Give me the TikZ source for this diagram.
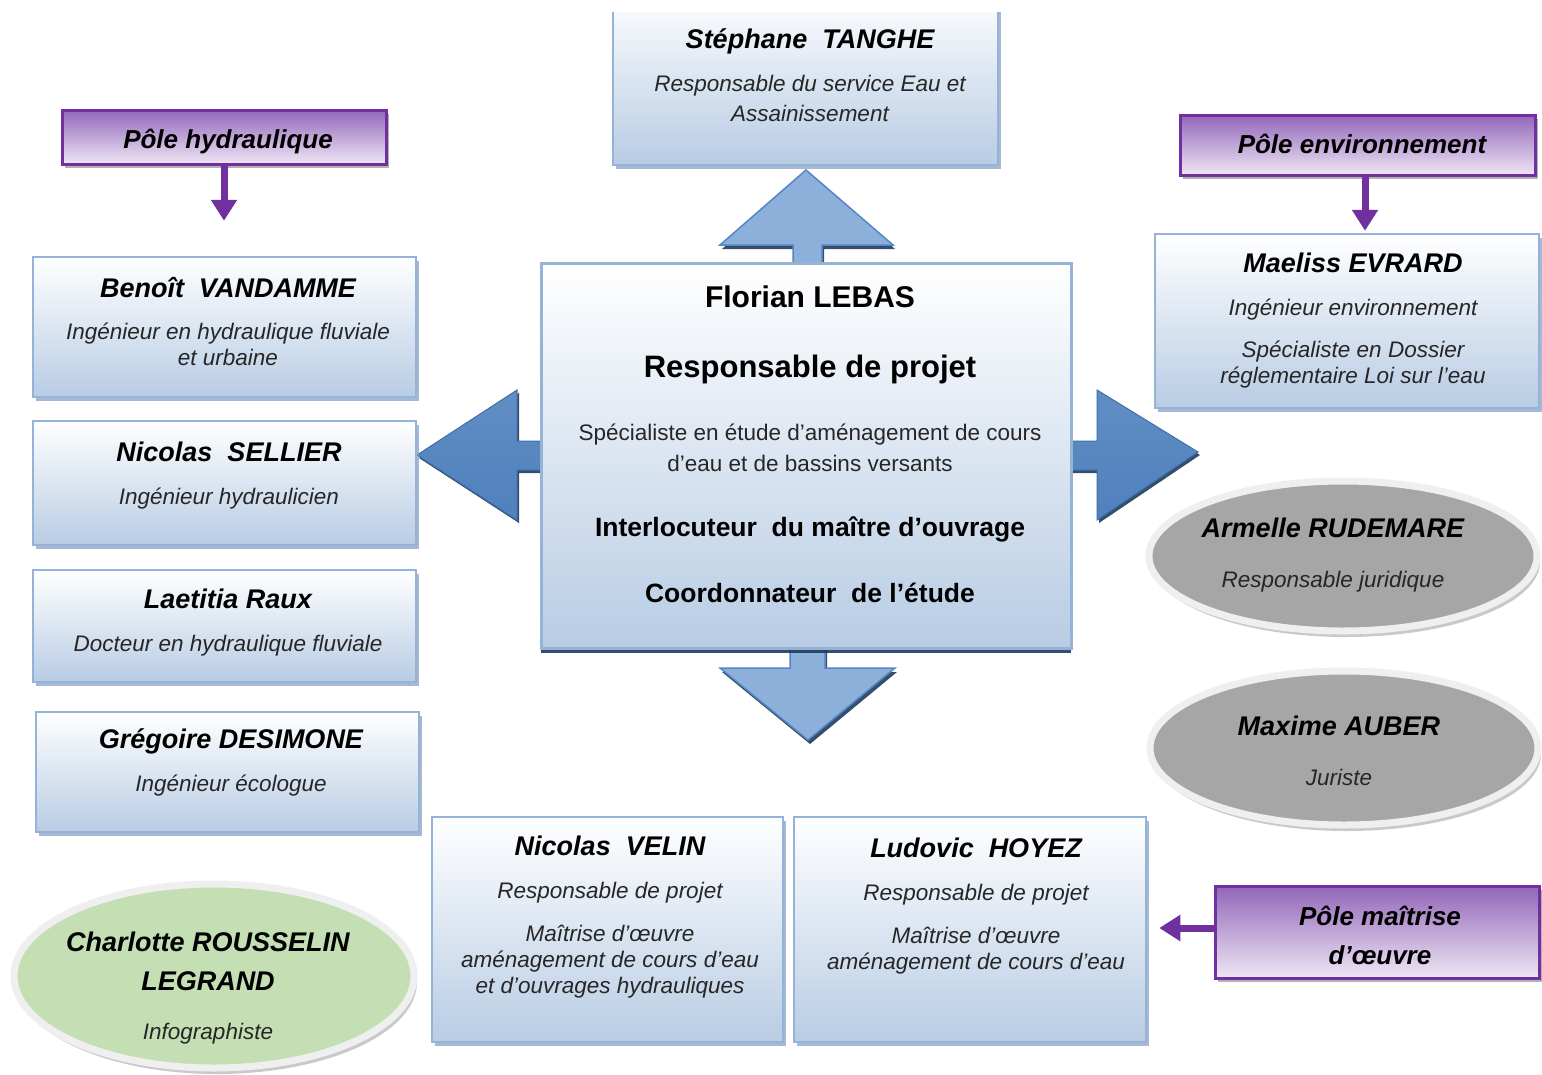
\documentclass[tikz,border=0pt]{standalone}
\usepackage{fontspec}
\setmainfont{Liberation Sans}
\usetikzlibrary{shapes.geometric,shadows,arrows.meta}
\definecolor{bxline}{HTML}{95B3D7}
\definecolor{bxbot}{HTML}{B8CCE4}
\definecolor{bxshad}{HTML}{7F9CC4}
\definecolor{navy}{HTML}{1F3B5C}
\definecolor{darkarrow}{HTML}{4F81BD}
\definecolor{darkarrowedge}{HTML}{3E6FAA}
\definecolor{lightarrow}{HTML}{8DB0DA}
\definecolor{lightarrowedge}{HTML}{5585C4}
\definecolor{purp}{HTML}{7030A0}
\definecolor{purptop}{HTML}{9366BA}
\definecolor{purpbot}{HTML}{EEE6F4}
\definecolor{greyfill}{HTML}{A6A6A6}
\definecolor{rim}{HTML}{EFEFEF}
\definecolor{greenfill}{HTML}{C4DFB4}
\definecolor{roletext}{HTML}{262626}
\begin{document}
\begin{tikzpicture}[x=1pt,y=-1pt,
  pbox/.style={rectangle, draw=bxline, line width=2.5pt, top color=white, bottom color=bxbot, inner sep=0pt,
    drop shadow={shadow xshift=3pt, shadow yshift=-4pt, fill=bxshad, opacity=0.7}},
  cbox/.style={rectangle, draw=bxline, line width=3pt, top color=white, bottom color=bxbot, inner sep=0pt,
    drop shadow={shadow xshift=0pt, shadow yshift=-5pt, fill=navy, opacity=0.9}},
  polebox/.style={rectangle, draw=purp, line width=3pt, top color=purptop, bottom color=purpbot, inner sep=0pt,
    drop shadow={shadow xshift=3pt, shadow yshift=-4pt, fill=gray, opacity=0.6}},
  oval/.style={ellipse, draw=rim, line width=7pt, inner sep=0pt,
    drop shadow={shadow xshift=3pt, shadow yshift=-6pt, fill=gray!70, opacity=0.6}},
  nm/.style={anchor=base, inner sep=0pt, font=\fontsize{27}{31}\selectfont\bfseries\itshape},
  rl/.style={anchor=base, inner sep=0pt, text=roletext, font=\fontsize{22.5}{26}\selectfont\itshape},
  cb/.style={anchor=base, inner sep=0pt, font=\fontsize{26.5}{31}\selectfont\bfseries},
  cr/.style={anchor=base, inner sep=0pt, text=roletext, font=\fontsize{22.5}{26}\selectfont},
  pt/.style={anchor=base, inner sep=0pt, font=\fontsize{26}{30}\selectfont\bfseries\itshape},
  parr/.style={draw=purp, line width=7pt, -{Triangle[width=25pt,length=21pt]}},
  blkshadow/.style={fill=navy, opacity=0.9},
  darkblk/.style={top color=darkarrow!90!white, bottom color=darkarrow, draw=darkarrowedge, line width=1pt, line join=miter},
  lightblk/.style={fill=lightarrow, draw=lightarrowedge, line width=1.5pt, line join=miter}
]
\useasboundingbox (0,0) rectangle (1542,1074);
\fill[white] (0,0) rectangle (1542,1074);

% ---------- block arrows around the central box (shadow, then shape) ----------
\path[blkshadow, shift={(2,4)}] (793,265) -- (793,245) -- (720,245) -- (806,170) -- (893,245) -- (822,245) -- (822,265) -- cycle;
\path[lightblk] (793,265) -- (793,245) -- (720,245) -- (806,170) -- (893,245) -- (822,245) -- (822,265) -- cycle;
\path[blkshadow, shift={(2,4)}] (790,646) -- (790,668) -- (720,668) -- (808,740) -- (895,668) -- (825,668) -- (825,646) -- cycle;
\path[lightblk] (790,646) -- (790,668) -- (720,668) -- (808,740) -- (895,668) -- (825,668) -- (825,646) -- cycle;
\path[blkshadow, shift={(2,3)}] (543,441) -- (517,441) -- (517,390) -- (417,455) -- (517,520) -- (517,470) -- (543,470) -- cycle;
\path[darkblk] (543,441) -- (517,441) -- (517,390) -- (417,455) -- (517,520) -- (517,470) -- (543,470) -- cycle;
\path[blkshadow, shift={(2,3)}] (1069,441) -- (1097,441) -- (1097,390) -- (1198,452) -- (1097,520) -- (1097,470) -- (1069,470) -- cycle;
\path[darkblk] (1069,441) -- (1097,441) -- (1097,390) -- (1198,452) -- (1097,520) -- (1097,470) -- (1069,470) -- cycle;

% ---------- central box ----------
\node[cbox, minimum width=530pt, minimum height=385pt] (lebas) at (806,455.5) {};
\node[cb, font=\fontsize{30}{34}\selectfont\bfseries] (lebas1) at (810,307) {Florian LEBAS};
\node[cb, font=\fontsize{31}{36}\selectfont\bfseries] (lebas2) at (810,377) {Responsable de projet};
\node[cr] (lebas3) at (810,440) {Spécialiste en étude d’aménagement de cours};
\node[cr] (lebas4) at (810,471) {d’eau et de bassins versants};
\node[cb] (lebas5) at (810,536) {Interlocuteur\ \ du\ maître d’ouvrage};
\node[cb] (lebas6) at (810,602) {Coordonnateur\ \ de l’étude};

% ---------- top box (cut by the top edge) ----------
\begin{scope}
\clip (590,12) rectangle (1020,200);
\node[pbox, minimum width=385pt, minimum height=175pt] (tanghe) at (805.5,77.5) {};
\end{scope}
\node[nm] (tanghe1) at (810,48) {Stéphane\ \ TANGHE};
\node[rl] (tanghe2) at (810,91) {Responsable du service Eau et};
\node[rl] (tanghe3) at (810,121) {Assainissement};

% ---------- left column ----------
\node[polebox, minimum width=324pt, minimum height=54pt] (ph) at (224,137) {};
\node[pt] (pht) at (228,148) {Pôle hydraulique};

\node[pbox, minimum width=383pt, minimum height=140pt] (vand) at (224.5,327) {};
\node[nm] (vand1) at (228,297) {Benoît\ \ VANDAMME};
\node[rl] (vand2) at (228,339) {Ingénieur en hydraulique fluviale};
\node[rl] (vand3) at (228,365) {et urbaine};

\node[pbox, minimum width=383pt, minimum height=124pt] (sell) at (224.5,483) {};
\node[nm] (sell1) at (229,461) {Nicolas\ \ SELLIER};
\node[rl] (sell2) at (229,504) {Ingénieur hydraulicien};

\node[pbox, minimum width=383pt, minimum height=112pt] (raux) at (224.5,626) {};
\node[nm] (raux1) at (228,608) {Laetitia Raux};
\node[rl] (raux2) at (228,651) {Docteur en hydraulique fluviale};

\node[pbox, minimum width=383pt, minimum height=120pt] (desi) at (227.5,772) {};
\node[nm] (desi1) at (231,748) {Grégoire DESIMONE};
\node[rl] (desi2) at (231,791) {Ingénieur écologue};

\node[oval, fill=greenfill, minimum width=400pt, minimum height=184pt] (rous) at (214,976) {};
\node[nm] (rous1) at (208,951) {Charlotte ROUSSELIN};
\node[nm] (rous2) at (208,990) {LEGRAND};
\node[rl] (rous3) at (208,1039) {Infographiste};

\draw[parr, shorten >=35pt] (ph.south) -- (ph.south |- vand.north);

% ---------- right column ----------
\node[polebox, minimum width=355pt, minimum height=60pt] (pe) at (1357.5,145) {};
\node[pt] (pet) at (1362,153) {Pôle environnement};

\node[pbox, minimum width=384pt, minimum height=174pt] (evr) at (1347,321) {};
\node[nm] (evr1) at (1353,272) {Maeliss EVRARD};
\node[rl] (evr2) at (1353,315) {Ingénieur environnement};
\node[rl] (evr3) at (1353,357) {Spécialiste en Dossier};
\node[rl] (evr4) at (1353,383) {réglementaire Loi sur l’eau};

\draw[parr, shorten >=2pt] ([xshift=7.5pt]pe.south) -- ([xshift=7.5pt]pe.south |- evr.north);

\node[oval, fill=greyfill, minimum width=388pt, minimum height=150pt] (rude) at (1343,556) {};
\node[nm] (rude1) at (1333,537) {Armelle RUDEMARE};
\node[rl] (rude2) at (1333,587) {Responsable juridique};

\node[oval, fill=greyfill, minimum width=388pt, minimum height=154pt] (aub) at (1344,748) {};
\node[nm] (aub1) at (1339,735) {Maxime AUBER};
\node[rl] (aub2) at (1339,785) {Juriste};

% ---------- bottom boxes ----------
\node[pbox, minimum width=351pt, minimum height=225pt] (vel) at (607.5,929.5) {};
\node[nm] (vel1) at (610,855) {Nicolas\ \ VELIN};
\node[rl] (vel2) at (610,898) {Responsable de projet};
\node[rl] (vel3) at (610,941) {Maîtrise d’œuvre};
\node[rl] (vel4) at (610,967) {aménagement de cours d’eau};
\node[rl] (vel5) at (610,993) {et d’ouvrages hydrauliques};

\node[pbox, minimum width=352pt, minimum height=225pt] (hoy) at (970,929.5) {};
\node[nm] (hoy1) at (976,857) {Ludovic\ \ HOYEZ};
\node[rl] (hoy2) at (976,900) {Responsable de projet};
\node[rl] (hoy3) at (976,943) {Maîtrise d’œuvre};
\node[rl] (hoy4) at (976,969) {aménagement de cours d’eau};

\node[polebox, minimum width=324pt, minimum height=92pt] (pm) at (1377,932) {};
\node[pt] (pmt1) at (1380,925) {Pôle maîtrise};
\node[pt] (pmt2) at (1380,964) {d’œuvre};

\draw[parr, shorten >=12pt] ([yshift=4pt]pm.west) -- ([yshift=4pt]pm.west -| hoy.east);
\end{tikzpicture}
\end{document}
